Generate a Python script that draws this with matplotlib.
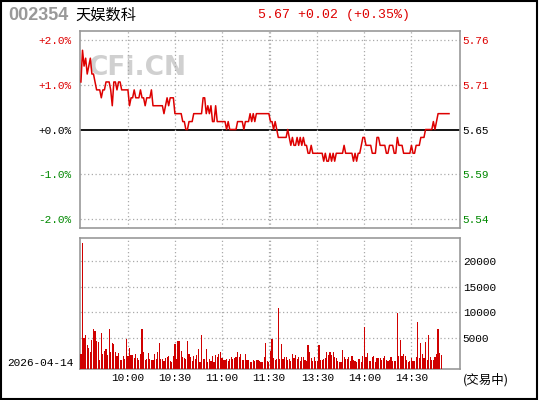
import numpy as np
import matplotlib
matplotlib.use('Agg')
import matplotlib.pyplot as plt
from matplotlib.patches import Rectangle

code = '002354'
name = '天娱数科'
quote = '5.67 +0.02 (+0.35%)'
date = '2026-04-14'
status = '(交易中)'
prev_close = 5.65

# minute close prices, 9:30 -> 11:30 (0-120), 13:00 -> (121-)
prices = [
    5.71, 5.75, 5.73, 5.74, 5.72, 5.73, 5.74, 5.72, 5.72, 5.71,
    5.70, 5.70, 5.70, 5.69, 5.70, 5.70, 5.71, 5.71, 5.71, 5.70,
    5.68, 5.71, 5.71, 5.70, 5.71, 5.71, 5.70, 5.70, 5.70, 5.70,
    5.70, 5.68, 5.69, 5.69, 5.70, 5.69, 5.69, 5.69, 5.70, 5.69,
    5.69, 5.68, 5.69, 5.69, 5.69, 5.70, 5.68, 5.68, 5.68, 5.68,
    5.68, 5.68, 5.68, 5.67, 5.68, 5.69, 5.68, 5.69, 5.69, 5.69,
    5.67, 5.67, 5.67, 5.67, 5.67, 5.66, 5.66, 5.65, 5.65, 5.66,
    5.66, 5.66, 5.67, 5.67, 5.67, 5.67, 5.67, 5.67, 5.69, 5.69,
    5.67, 5.68, 5.67, 5.68, 5.66, 5.66, 5.68, 5.66, 5.66, 5.66,
    5.66, 5.66, 5.66, 5.65, 5.66, 5.65, 5.65, 5.65, 5.65, 5.65,
    5.66, 5.66, 5.66, 5.66, 5.65, 5.66, 5.66, 5.66, 5.67, 5.66,
    5.67, 5.66, 5.67, 5.67, 5.67, 5.67, 5.67, 5.67, 5.67, 5.67,
    5.67, 5.66, 5.66, 5.65, 5.66, 5.65, 5.64, 5.64, 5.64, 5.64,
    5.64, 5.64, 5.65, 5.64, 5.63, 5.64, 5.63, 5.63, 5.64, 5.63,
    5.64, 5.63, 5.64, 5.63, 5.63, 5.62, 5.62, 5.63, 5.62, 5.62,
    5.62, 5.62, 5.62, 5.62, 5.62, 5.61, 5.62, 5.61, 5.61, 5.62,
    5.61, 5.62, 5.61, 5.62, 5.62, 5.62, 5.62, 5.62, 5.63, 5.62,
    5.62, 5.62, 5.62, 5.62, 5.61, 5.62, 5.61, 5.62, 5.62, 5.63,
    5.64, 5.64, 5.63, 5.63, 5.63, 5.63, 5.62, 5.62, 5.62, 5.64,
    5.64, 5.63, 5.63, 5.63, 5.63, 5.62, 5.62, 5.63, 5.63, 5.63,
    5.62, 5.62, 5.64, 5.63, 5.63, 5.63, 5.62, 5.62, 5.62, 5.62,
    5.62, 5.63, 5.62, 5.62, 5.63, 5.63, 5.63, 5.64, 5.64, 5.64,
    5.65, 5.65, 5.65, 5.65, 5.65, 5.66, 5.65, 5.66, 5.67, 5.67,
    5.67, 5.67, 5.67, 5.67, 5.67, 5.67,
]

# minute volume
volume = [
    1800, 23600, 5070, 5520, 3570, 2950, 2270, 4550, 6700, 6300,
    4350, 4160, 650, 5900, 1800, 2400, 2770, 1600, 6700, 2200,
    3960, 3760, 2200, 1400, 2000, 650, 650, 1400, 850, 4750,
    1400, 2950, 1600, 1600, 1000, 1800, 1000, 650, 1800, 6700,
    2200, 650, 850, 2000, 850, 650, 650, 1800, 850, 2200,
    3960, 850, 850, 450, 1000, 1200, 1400, 450, 250, 1400,
    3760, 850, 4350, 4350, 2400, 1200, 1000, 850, 4350, 1800,
    1200, 450, 1400, 850, 1600, 2770, 250, 5520, 850, 850,
    2770, 250, 850, 450, 1400, 250, 1600, 1200, 1800, 2200,
    1000, 650, 650, 850, 450, 850, 1200, 850, 1000, 1200,
    2200, 1200, 1800, 650, 650, 1800, 650, 650, 250, 250,
    650, 450, 650, 650, 450, 300, 300, 1200, 3960, 450,
    200, 2400, 4750, 1000, 600, 850, 10800, 850, 3760, 850,
    1200, 1200, 650, 850, 450, 1800, 1000, 1600, 850, 1200,
    450, 1200, 1200, 650, 450, 3570, 2200, 1000, 450, 1200,
    450, 450, 3570, 650, 650, 850, 1000, 2200, 1600, 2200,
    1600, 2200, 1200, 1000, 450, 250, 300, 2600, 1200, 850,
    850, 1200, 450, 1400, 650, 450, 250, 850, 850, 250,
    1400, 7080, 1200, 2000, 450, 450, 1200, 1400, 300, 1000,
    1000, 1000, 650, 1000, 1400, 650, 450, 650, 1200, 450,
    450, 450, 9800, 1400, 4550, 1400, 1800, 1400, 650, 250,
    450, 1000, 450, 450, 1200, 8140, 1000, 3960, 1800, 1000,
    4160, 700, 5650, 1200, 650, 650, 1200, 1800, 6700, 2000,
    1600,
]

time_ticks = [30, 60, 90, 120, 151, 181, 211]
time_labels = ['10:00', '10:30', '11:00', '11:30', '13:30', '14:00', '14:30']
grid_x = [30, 60, 90, 120, 121, 151, 181, 211]
pct_ticks = [2, 1, 0, -1, -2]
vol_ticks = [5000, 10000, 15000, 20000]

RED = '#dd0000'
GREEN = '#008800'
GRID = '#aaaaaa'
SPINE = '#999999'
mono = 'Liberation Mono'

pct = (np.array(prices) - prev_close) / prev_close * 100
t_price = np.arange(len(prices))
t_vol = np.arange(len(volume))

fig = plt.figure(figsize=(5.4, 4), dpi=100)
fig.patches.append(Rectangle((0.002, 0.003), 0.993, 0.994, transform=fig.transFigure,
                             fill=False, edgecolor='black', linewidth=1.5))

# price panel
ax = fig.add_axes([80/540, 172/400, 380/540, 197/400])
ax.plot(t_price, pct, color=RED, lw=1.1, zorder=3)
ax.axhline(0, color='black', lw=1.3, zorder=2)
for y in [2, 1, -1, -2]:
    ax.axhline(y, color=GRID, lw=0.9, ls=(0, (1, 2)))
for x in grid_x:
    ax.axvline(x, color=GRID, lw=0.9, ls=(0, (1, 2)))
ax.set_xlim(-0.6, 242)
ax.set_ylim(-2.2, 2.2)
ax.set_xticks([])
ax.set_yticks(pct_ticks)
ax.set_yticklabels(['%+.1f%%' % v for v in pct_ticks], family=mono, fontsize=8)
for lab, v in zip(ax.get_yticklabels(), pct_ticks):
    lab.set_color(RED if v > 0 else (GREEN if v < 0 else 'black'))
ax.tick_params(length=0, pad=6)
for s in ax.spines.values():
    s.set_color(SPINE)
    s.set_linewidth(1.2)
ax.text(0.024, 0.777, 'CFi.CN', transform=ax.transAxes, fontsize=19,
        fontweight='bold', color='#d0d0d0', va='baseline', zorder=1)

ax2 = ax.twinx()
ax2.set_ylim(prev_close * (1 - 0.022), prev_close * (1 + 0.022))
price_ticks = [prev_close * (1 + v / 100) for v in pct_ticks]
ax2.set_yticks(price_ticks)
ax2.set_yticklabels(['%.2f' % p for p in price_ticks], family=mono, fontsize=8)
for lab, v in zip(ax2.get_yticklabels(), pct_ticks):
    lab.set_color(RED if v > 0 else (GREEN if v < 0 else 'black'))
ax2.tick_params(length=0, pad=2)
for s in ax2.spines.values():
    s.set_visible(False)

# volume panel
vx = fig.add_axes([80/540, 31/400, 380/540, 131/400])
vlo, vhi = -1100, 24600
vx.bar(t_vol, np.array(volume) - vlo, bottom=vlo, width=0.75, color='#d00000',
       linewidth=0, zorder=3)
for y in vol_ticks:
    vx.axhline(y, color=GRID, lw=0.9, ls=(0, (1, 2)))
for x in grid_x:
    vx.axvline(x, color=GRID, lw=0.9, ls=(0, (1, 2)))
vx.set_xlim(-0.6, 242)
vx.set_ylim(vlo, vhi)
vx.yaxis.tick_right()
vx.set_yticks(vol_ticks)
vx.set_yticklabels([str(v) for v in vol_ticks], family=mono, fontsize=8)
vx.set_xticks(time_ticks)
vx.set_xticklabels(time_labels, family=mono, fontsize=8)
vx.tick_params(length=0, pad=3)
vx.tick_params(axis='y', pad=2)
for s in vx.spines.values():
    s.set_color(SPINE)
    s.set_linewidth(1.2)

# header and footer texts
fig.text(8/540, 1 - 15/400, code, fontsize=13, fontweight='bold', color='#999999',
         family='Liberation Sans', va='center')
fig.text(75/540, 1 - 15/400, name, fontsize=11, color='black',
         family=['Noto Sans CJK SC', 'DejaVu Sans'], va='center')
fig.text(258/540, 1 - 15/400, quote, fontsize=9.5, color=RED, family=mono, va='center')
fig.text(7/540, 1 - 363/400, date, fontsize=8, family=mono, va='center')
fig.text(463/540, 1 - 380/400, status, fontsize=9,
         family=['Noto Sans CJK SC', 'DejaVu Sans'], va='center')

fig.savefig('out.png', dpi=100)
